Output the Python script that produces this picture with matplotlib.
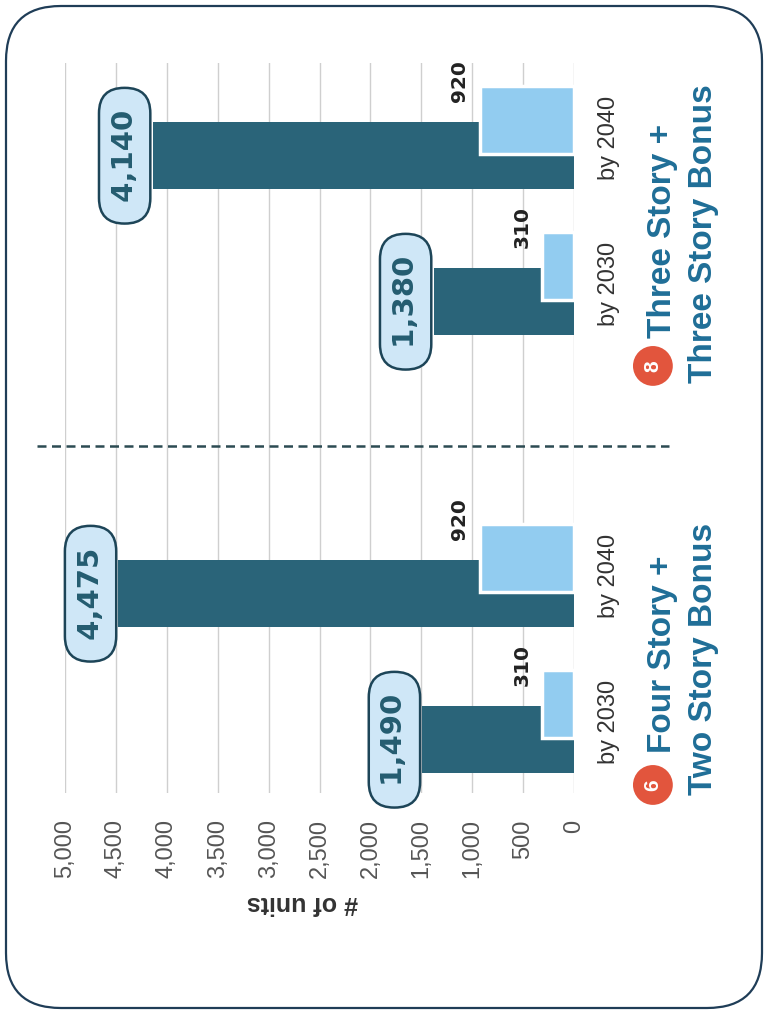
import numpy as np
import matplotlib.pyplot as plt
from matplotlib.patches import FancyBboxPatch
from matplotlib.transforms import blended_transform_factory

plt.rcParams['font.family'] = ['Liberation Sans', 'DejaVu Sans']

# data (chart is printed rotated 90 degrees, so bars run right-to-left)
categories = ['by 2030', 'by 2040', 'by 2030', 'by 2040']
positions = [0, 1, 3, 4]
total_units = [1490, 4475, 1380, 4140]
bonus_units = [310, 920, 310, 920]
group_numbers = ['6', '8']
group_line1 = ['Four Story +', 'Three Story +']
group_line2 = ['Two Story Bonus', 'Three Story Bonus']
ticks = np.arange(0, 5001, 500)

dark = '#2a6479'
light = '#92ccf0'
title_blue = '#1f6e97'

fig = plt.figure(figsize=(7.68, 10.15), dpi=100)

# card border
bg = fig.add_axes([0, 0, 1, 1])
bg.set_xlim(0, 768)
bg.set_ylim(1015, 0)
bg.axis('off')
bg.add_patch(FancyBboxPatch((6, 6), 756, 1002, boxstyle='round,pad=0,rounding_size=55',
                            fc='white', ec='#1f3d57', lw=1.6))

ax = fig.add_axes([65/768, 1-793/1015, 509/768, 730/1015])
ax.patch.set_alpha(0)
pos = np.array(positions)
ax.barh(pos - 0.125, total_units, height=0.46, color=dark, zorder=2)
ax.barh(pos + 0.12, bonus_units, height=0.46, color=light, edgecolor='white', linewidth=2.5, zorder=3)

ax.set_xlim(5000, 0)
ax.set_ylim(-0.49, 4.51)
ax.set_xticks(ticks, [f"{t:,}" for t in ticks])
ax.xaxis.grid(True, color='#cfcfcf', lw=1)
ax.set_axisbelow(True)
ax.tick_params(axis='x', length=0, pad=19, labelrotation=90, labelsize=17, labelcolor='#555555')
for s in ax.spines.values():
    s.set_visible(False)

ax.set_yticks(positions, categories)
ax.yaxis.tick_right()
ax.tick_params(axis='y', length=0, pad=17, labelsize=17, labelcolor='#333333')
for lbl in ax.get_yticklabels():
    lbl.set_rotation(90)
    lbl.set_va('center')

ax.set_xlabel('# of units', rotation=180, fontsize=18, fontweight='bold', color='#333333')
ax.xaxis.set_label_coords(0.466, -0.151)
ax.xaxis.label.set_va('center')

# separator between the two scenarios
ax.axhline(1.887, xmin=-0.055, xmax=1.187, clip_on=False, color='#2c4b52', lw=1.8, ls=(0, (3.6, 2.2)))

# total labels in pills
for p, v in zip(positions, total_units):
    ax.annotate(f" {v:,} ", xy=(v, p - 0.125), xytext=(-10, 0), textcoords='offset points',
                rotation=90, ha='right', va='center', fontsize=21, fontweight='bold',
                family='DejaVu Sans', color='#245c70', zorder=5,
                bbox=dict(boxstyle='round,pad=0.4,rounding_size=0.87', fc='#cfe7f7', ec='#1d4558', lw=1.8))

# bonus labels
for p, b in zip(positions, bonus_units):
    ax.annotate(f"{b}", xy=(b, p + 0.12), xytext=(-8, 28), textcoords='offset points',
                rotation=90, ha='right', va='center', fontsize=14.5, fontweight='bold',
                family='DejaVu Sans', color='#222222', zorder=5)

# group titles
tr = blended_transform_factory(ax.transAxes, ax.transData)
circle_y = [-0.435, 2.435]
line1_y = [-0.216, 2.627]
line2_y = [-0.503, 2.318]
for i in range(2):
    ax.text(1.155, circle_y[i], group_numbers[i], transform=tr, rotation=90, ha='center', va='center',
            fontsize=15, fontweight='bold', color='white', clip_on=False,
            bbox=dict(boxstyle='circle,pad=0.5', fc='#e2553d', ec='none'))
    ax.text(1.173, line1_y[i], group_line1[i], transform=tr, rotation=90, ha='center', va='bottom',
            fontsize=24, fontweight='bold', color=title_blue, clip_on=False)
    ax.text(1.255, line2_y[i], group_line2[i], transform=tr, rotation=90, ha='center', va='bottom',
            fontsize=24, fontweight='bold', color=title_blue, clip_on=False)

fig.savefig('out.png', dpi=100)
